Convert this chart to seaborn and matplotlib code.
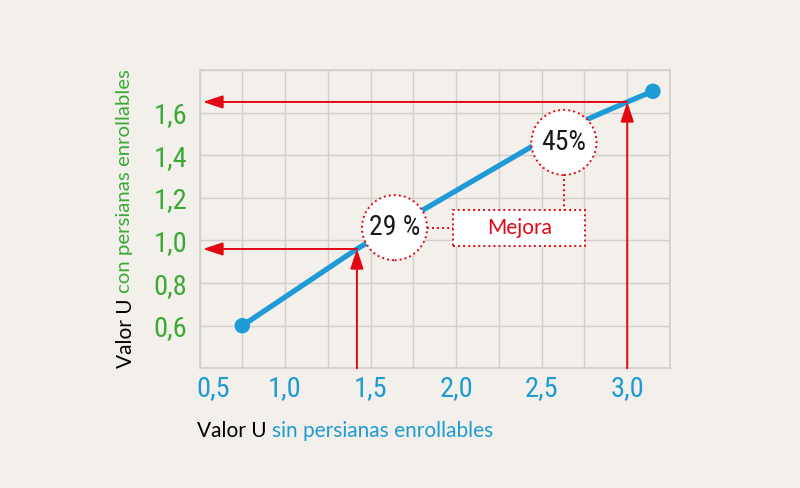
import numpy as np
import pandas as pd
import matplotlib.pyplot as plt
import seaborn as sns
from matplotlib.patches import Rectangle
from matplotlib.ticker import MultipleLocator
from matplotlib.transforms import ScaledTranslation

# U value without roller shutters (x) vs with roller shutters (y)
u_sin = [0.75, 1.42, 1.80, 2.44, 2.77, 3.00, 3.15]
u_con = [0.60, 0.96, 1.14, 1.44, 1.57, 1.65, 1.70]

# the two read-off examples (red arrows)
read_sin = [1.42, 3.00]
read_con = [0.96, 1.65]

x_ticks = [0.5, 1.0, 1.5, 2.0, 2.5, 3.0]
x_labels = ["0,5", "1,0", "1,5", "2,0", "2,5", "3,0"]
y_ticks = [0.6, 0.8, 1.0, 1.2, 1.4, 1.6]
y_labels = ["0,6", "0,8", "1,0", "1,2", "1,4", "1,6"]

badge_labels = ["29 %", "45%"]
box_label = "Mejora"

BG = "#f3f0eb"
BLUE = "#1e9bd7"
GREEN = "#3aaa35"
RED = "#e30613"
GRID = "#d2cfcb"
DOTS = (0, (1, 1.6))

sns.set_style("whitegrid", {"axes.facecolor": BG, "figure.facecolor": BG,
                            "grid.color": GRID, "axes.edgecolor": GRID})
narrow = ["Roboto Condensed", "DejaVu Sans Condensed", "Open Sans Condensed",
          "Liberation Sans Narrow", "Lato"]
regular = ["Lato", "DejaVu Sans"]
plt.rcParams["font.family"] = regular

fig = plt.figure(figsize=(8, 4.88), dpi=100)
ax = fig.add_axes([0.2494, 0.2453, 0.5881, 0.6113])

# curve and end points
sns.lineplot(x=u_sin, y=u_con, ax=ax, color=BLUE, linewidth=3.8,
             solid_capstyle="round", zorder=3)
sns.scatterplot(x=[u_sin[0], u_sin[-1]], y=[u_con[0], u_con[-1]], ax=ax,
                color=BLUE, s=125, edgecolor="none", zorder=4)

ax.set_xlim(0.5, 3.25)
ax.set_ylim(0.4, 1.8)

# red reading arrows
arrow = dict(arrowstyle="-|>,head_length=1.2,head_width=0.4", color=RED,
             lw=1.4, shrinkA=0, shrinkB=0)
for xs, ys in zip(read_sin, read_con):
    ax.annotate("", xy=(xs, ys), xytext=(xs, 0.4), arrowprops=arrow, zorder=5)
    ax.annotate("", xy=(0.52, ys), xytext=(xs, ys), arrowprops=arrow, zorder=5)

# improvement badges
badge_x = [1.64, 2.63]
badge_y = [1.06, 1.46]
ax.scatter(badge_x, badge_y, s=2200, facecolor="white", edgecolor=RED,
           linewidth=1.4, linestyle=DOTS, zorder=6)
for bx, by, lab in zip(badge_x, badge_y, badge_labels):
    ax.text(bx, by, lab, ha="center", va="center", fontsize=20,
            family=narrow, color="#1a1a1a", zorder=7)

ax.add_patch(Rectangle((1.984, 0.972), 0.77, 0.172, facecolor="white",
                       edgecolor=RED, lw=1.4, ls=DOTS, zorder=6))
ax.text(2.37, 1.058, box_label, ha="center", va="center", fontsize=15,
        color=RED, zorder=7)
ax.plot([1.83, 1.984], [1.06, 1.06], color=RED, lw=1.4, ls=DOTS, zorder=5)
ax.plot([2.63, 2.63], [1.313, 1.144], color=RED, lw=1.4, ls=DOTS, zorder=5)

# axes styling
ax.set_xticks(x_ticks)
ax.set_xticklabels(x_labels, color=BLUE, fontsize=20.5, family=narrow)
ax.set_yticks(y_ticks)
ax.set_yticklabels(y_labels, color=GREEN, fontsize=20.5, family=narrow)
ax.xaxis.set_minor_locator(MultipleLocator(0.25))
ax.yaxis.set_minor_locator(MultipleLocator(0.2))
ax.grid(which="both", color=GRID, lw=1.0)
ax.tick_params(which="both", length=0)
ax.tick_params(axis="x", pad=5)
ax.tick_params(axis="y", pad=9)
for sp in ax.spines.values():
    sp.set_color(GRID)
    sp.set_linewidth(1.2)
first = ax.get_xticklabels()[0]
first.set_transform(first.get_transform() + ScaledTranslation(10 / 72, 0, fig.dpi_scale_trans))

# two-colour axis titles
tx = fig.text(197 / 800, 1 - 441 / 488, "Valor U", color="black", fontsize=15,
              ha="left", va="bottom")
ax.annotate("sin persianas enrollables", xy=(1, 0), xycoords=tx,
            xytext=(4, 0), textcoords="offset points", ha="left", va="bottom",
            color=BLUE, fontsize=15)
ty = fig.text(126 / 800, 1 - 368 / 488, "Valor U", color="black", fontsize=15,
              rotation=90, ha="center", va="bottom")
ax.annotate("con persianas enrollables", xy=(0, 1), xycoords=ty,
            xytext=(0, 4), textcoords="offset points", ha="left", va="bottom",
            rotation=90, color=GREEN, fontsize=14.7)

fig.savefig("out.png", dpi=100, facecolor=BG)
